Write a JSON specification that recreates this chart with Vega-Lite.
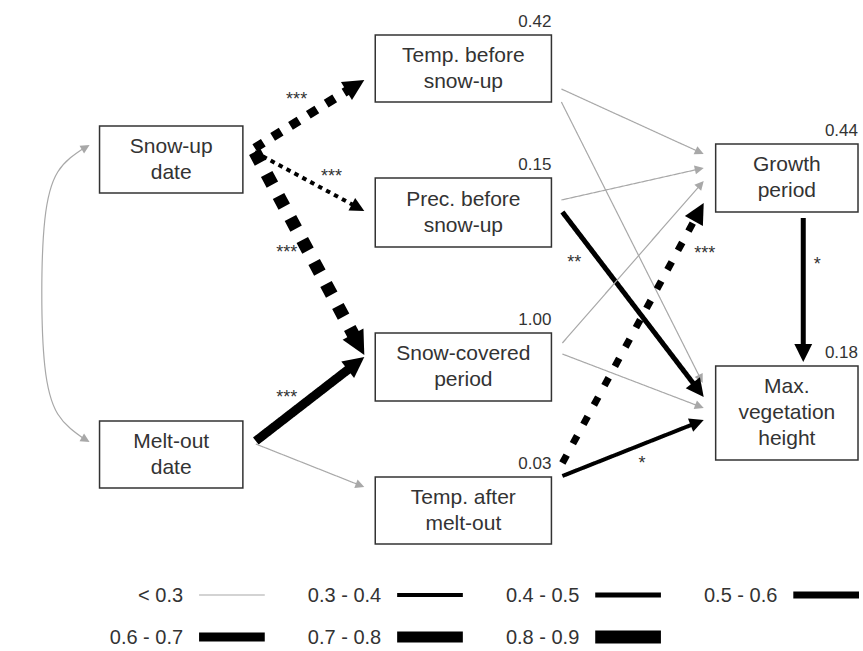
{
  "$schema": "https://vega.github.io/schema/vega-lite/v6.json",
  "width": 863,
  "height": 651,
  "autosize": {"type": "fit", "contains": "padding"},
  "padding": 0,
  "background": "white",
  "config": {"view": {"stroke": null}, "font": "Liberation Sans"},
  "datasets": {
    "nodes": [
      {"id": "SU", "label": "Snow-up\ndate", "x1": 100, "x2": 244, "y1": 126, "y2": 193, "r2": ""},
      {"id": "MO", "label": "Melt-out\ndate", "x1": 100, "x2": 244, "y1": 421, "y2": 488, "r2": ""},
      {"id": "TB", "label": "Temp. before\nsnow-up", "x1": 377, "x2": 554, "y1": 35, "y2": 102, "r2": "0.42"},
      {"id": "PB", "label": "Prec. before\nsnow-up", "x1": 377, "x2": 554, "y1": 178, "y2": 247, "r2": "0.15"},
      {"id": "SC", "label": "Snow-covered\nperiod", "x1": 377, "x2": 554, "y1": 333, "y2": 401, "r2": "1.00"},
      {"id": "TA", "label": "Temp. after\nmelt-out", "x1": 377, "x2": 554, "y1": 477, "y2": 544, "r2": "0.03"},
      {"id": "GP", "label": "Growth\nperiod", "x1": 719, "x2": 862, "y1": 144, "y2": 212, "r2": "0.44"},
      {"id": "MV", "label": "Max.\nvegetation\nheight", "x1": 719, "x2": 862, "y1": 366, "y2": 460, "r2": "0.18"}
    ],
    "paths": [
      {"from": "SU", "to": "TB", "x": 256, "y": 148, "x2": 366, "y2": 80, "coef": "0.6-0.7", "effect": "negative", "sig": "***", "sx": 298, "sy": 95},
      {"from": "SU", "to": "PB", "x": 256, "y": 152, "x2": 366, "y2": 211, "coef": "0.3-0.4", "effect": "negative", "sig": "***", "sx": 333, "sy": 172},
      {"from": "SU", "to": "SC", "x": 256, "y": 152, "x2": 366, "y2": 355, "coef": "0.8-0.9", "effect": "negative", "sig": "***", "sx": 288, "sy": 248},
      {"from": "MO", "to": "SC", "x": 257, "y": 441, "x2": 366, "y2": 357, "coef": "0.6-0.7", "effect": "positive", "sig": "***", "sx": 288, "sy": 393},
      {"from": "MO", "to": "TA", "x": 257, "y": 444, "x2": 366, "y2": 487, "coef": "<0.3", "effect": "positive", "sig": "", "sx": 0, "sy": 0},
      {"from": "TB", "to": "GP", "x": 564, "y": 89, "x2": 707, "y2": 154, "coef": "<0.3", "effect": "positive", "sig": "", "sx": 0, "sy": 0},
      {"from": "TB", "to": "MV", "x": 564, "y": 102, "x2": 706, "y2": 383, "coef": "<0.3", "effect": "positive", "sig": "", "sx": 0, "sy": 0},
      {"from": "PB", "to": "GP", "x": 564, "y": 200, "x2": 707, "y2": 168, "coef": "<0.3", "effect": "positive", "sig": "", "sx": 0, "sy": 0},
      {"from": "PB", "to": "MV", "x": 565, "y": 212, "x2": 707, "y2": 397, "coef": "0.4-0.5", "effect": "positive", "sig": "**", "sx": 577, "sy": 258},
      {"from": "SC", "to": "GP", "x": 565, "y": 343, "x2": 707, "y2": 181, "coef": "<0.3", "effect": "positive", "sig": "", "sx": 0, "sy": 0},
      {"from": "SC", "to": "MV", "x": 565, "y": 354, "x2": 707, "y2": 408, "coef": "<0.3", "effect": "positive", "sig": "", "sx": 0, "sy": 0},
      {"from": "TA", "to": "GP", "x": 565, "y": 463, "x2": 707, "y2": 203, "coef": "0.5-0.6", "effect": "negative", "sig": "***", "sx": 708, "sy": 249},
      {"from": "TA", "to": "MV", "x": 565, "y": 476, "x2": 707, "y2": 420, "coef": "0.3-0.4", "effect": "positive", "sig": "*", "sx": 645, "sy": 459},
      {"from": "GP", "to": "MV", "x": 807, "y": 218, "x2": 807, "y2": 362, "coef": "0.4-0.5", "effect": "positive", "sig": "*", "sx": 821, "sy": 260}
    ],
    "corr": [
      {"i": 0, "x": 86, "y": 147},
      {"i": 1, "x": 58, "y": 172},
      {"i": 2, "x": 45, "y": 220},
      {"i": 3, "x": 42, "y": 293},
      {"i": 4, "x": 45, "y": 366},
      {"i": 5, "x": 58, "y": 414},
      {"i": 6, "x": 86, "y": 440}
    ],
    "corrHeads": [
      {"x": 78, "y": 152, "x2": 90, "y2": 145},
      {"x": 78, "y": 435, "x2": 90, "y2": 442}
    ],
    "legend": [
      {"label": "< 0.3", "coef": "<0.3", "col": 0, "row": 0},
      {"label": "0.3 - 0.4", "coef": "0.3-0.4", "col": 1, "row": 0},
      {"label": "0.4 - 0.5", "coef": "0.4-0.5", "col": 2, "row": 0},
      {"label": "0.5 - 0.6", "coef": "0.5-0.6", "col": 3, "row": 0},
      {"label": "0.6 - 0.7", "coef": "0.6-0.7", "col": 0, "row": 1},
      {"label": "0.7 - 0.8", "coef": "0.7-0.8", "col": 1, "row": 1},
      {"label": "0.8 - 0.9", "coef": "0.8-0.9", "col": 2, "row": 1}
    ]
  },
  "layer": [
    {
      "data": {"name": "corr"},
      "mark": {"type": "line", "interpolate": "natural", "color": "#a8a8a8", "strokeWidth": 1.2},
      "encoding": {
        "x": {"field": "x", "type": "quantitative", "scale": {"domain": [0, 863], "nice": false, "zero": false}, "axis": null},
        "y": {"field": "y", "type": "quantitative", "scale": {"domain": [0, 651], "nice": false, "zero": false, "reverse": true}, "axis": null},
        "order": {"field": "i", "type": "quantitative"}
      }
    },
    {
      "data": {"name": "paths"},
      "transform": [
        {"calculate": "sqrt(pow(datum.x2-datum.x,2)+pow(datum.y2-datum.y,2))", "as": "len"},
        {"calculate": "datum.coef=='<0.3' ? 5 : 12", "as": "cut"},
        {"calculate": "datum.x2-(datum.x2-datum.x)/datum.len*datum.cut", "as": "xe"},
        {"calculate": "datum.y2-(datum.y2-datum.y)/datum.len*datum.cut", "as": "ye"},
        {"calculate": "datum.effect=='negative' ? datum.coef : 'solid'", "as": "dash"}
      ],
      "mark": {"type": "rule", "strokeCap": "butt"},
      "encoding": {
        "x": {"field": "x", "type": "quantitative", "scale": {"domain": [0, 863], "nice": false, "zero": false}, "axis": null},
        "y": {"field": "y", "type": "quantitative", "scale": {"domain": [0, 651], "nice": false, "zero": false, "reverse": true}, "axis": null},
        "x2": {"field": "xe"},
        "y2": {"field": "ye"},
        "color": {"field": "coef", "type": "ordinal", "scale": {"type": "ordinal", "domain": ["<0.3", "0.3-0.4", "0.4-0.5", "0.5-0.6", "0.6-0.7", "0.7-0.8", "0.8-0.9"], "range": ["#a8a8a8", "#000000", "#000000", "#000000", "#000000", "#000000", "#000000"]}, "legend": null},
        "strokeWidth": {"field": "coef", "type": "ordinal", "scale": {"type": "ordinal", "domain": ["<0.3", "0.3-0.4", "0.4-0.5", "0.5-0.6", "0.6-0.7", "0.7-0.8", "0.8-0.9"], "range": [1.2, 4, 5, 7, 9, 11, 13]}, "legend": null},
        "strokeDash": {"field": "dash", "type": "nominal", "scale": {"domain": ["solid", "0.3-0.4", "0.5-0.6", "0.6-0.7", "0.8-0.9"], "range": [[1, 0], [4.5, 4.5], [9, 13], [10, 11], [12, 13]]}, "legend": null}
      }
    },
    {
      "data": {"name": "paths"},
      "transform": [
        {"calculate": "(atan2(datum.x2-datum.x, datum.y-datum.y2)*180/PI + 360) % 360", "as": "angle"}
      ],
      "mark": {"type": "point", "shape": "M0,0L-1,2L1,2Z", "filled": true, "opacity": 1, "strokeWidth": 0},
      "encoding": {
        "x": {"field": "x2", "type": "quantitative", "scale": {"domain": [0, 863], "nice": false, "zero": false}, "axis": null},
        "y": {"field": "y2", "type": "quantitative", "scale": {"domain": [0, 651], "nice": false, "zero": false, "reverse": true}, "axis": null},
        "angle": {"field": "angle", "type": "quantitative", "scale": null},
        "color": {"field": "coef", "type": "ordinal", "scale": {"type": "ordinal", "domain": ["<0.3", "0.3-0.4", "0.4-0.5", "0.5-0.6", "0.6-0.7", "0.7-0.8", "0.8-0.9"], "range": ["#a8a8a8", "#000000", "#000000", "#000000", "#000000", "#000000", "#000000"]}, "legend": null},
        "size": {"field": "coef", "type": "ordinal", "scale": {"type": "ordinal", "domain": ["<0.3", "0.3-0.4", "0.4-0.5", "0.5-0.6", "0.6-0.7", "0.7-0.8", "0.8-0.9"], "range": [81, 200, 320, 420, 440, 480, 560]}, "legend": null}
      }
    },
    {
      "data": {"name": "corrHeads"},
      "transform": [
        {"calculate": "(atan2(datum.x2-datum.x, datum.y-datum.y2)*180/PI + 360) % 360", "as": "angle"}
      ],
      "mark": {"type": "point", "shape": "M0,0L-1,2L1,2Z", "filled": true, "opacity": 1, "strokeWidth": 0, "color": "#a8a8a8", "size": 81},
      "encoding": {
        "x": {"field": "x2", "type": "quantitative", "scale": {"domain": [0, 863], "nice": false, "zero": false}, "axis": null},
        "y": {"field": "y2", "type": "quantitative", "scale": {"domain": [0, 651], "nice": false, "zero": false, "reverse": true}, "axis": null},
        "angle": {"field": "angle", "type": "quantitative", "scale": null}
      }
    },
    {
      "data": {"name": "paths"},
      "transform": [{"filter": "datum.sig != ''"}],
      "mark": {"type": "text", "fontSize": 18, "color": "#333333", "baseline": "alphabetic", "align": "center", "dy": 10},
      "encoding": {
        "x": {"field": "sx", "type": "quantitative", "scale": {"domain": [0, 863], "nice": false, "zero": false}, "axis": null},
        "y": {"field": "sy", "type": "quantitative", "scale": {"domain": [0, 651], "nice": false, "zero": false, "reverse": true}, "axis": null},
        "text": {"field": "sig"}
      }
    },
    {
      "data": {"name": "nodes"},
      "mark": {"type": "rect", "fill": "white", "stroke": "#333333", "strokeWidth": 1.5},
      "encoding": {
        "x": {"field": "x1", "type": "quantitative", "scale": {"domain": [0, 863], "nice": false, "zero": false}, "axis": null},
        "y": {"field": "y1", "type": "quantitative", "scale": {"domain": [0, 651], "nice": false, "zero": false, "reverse": true}, "axis": null},
        "x2": {"field": "x2"},
        "y2": {"field": "y2"}
      }
    },
    {
      "data": {"name": "nodes"},
      "transform": [
        {"calculate": "(datum.x1+datum.x2)/2", "as": "cx"},
        {"calculate": "(datum.y1+datum.y2)/2 - (length(split(datum.label, '\\n'))-1)*13", "as": "cy"}
      ],
      "mark": {"type": "text", "fontSize": 21, "color": "#333333", "lineBreak": "\n", "lineHeight": 26, "align": "center", "baseline": "middle"},
      "encoding": {
        "x": {"field": "cx", "type": "quantitative", "scale": {"domain": [0, 863], "nice": false, "zero": false}, "axis": null},
        "y": {"field": "cy", "type": "quantitative", "scale": {"domain": [0, 651], "nice": false, "zero": false, "reverse": true}, "axis": null},
        "text": {"field": "label"}
      }
    },
    {
      "data": {"name": "nodes"},
      "transform": [
        {"filter": "datum.r2 != ''"},
        {"calculate": "datum.y1 - 13", "as": "ry"}
      ],
      "mark": {"type": "text", "fontSize": 17, "color": "#333333", "align": "right", "baseline": "middle"},
      "encoding": {
        "x": {"field": "x2", "type": "quantitative", "scale": {"domain": [0, 863], "nice": false, "zero": false}, "axis": null},
        "y": {"field": "ry", "type": "quantitative", "scale": {"domain": [0, 651], "nice": false, "zero": false, "reverse": true}, "axis": null},
        "text": {"field": "r2"}
      }
    },
    {
      "data": {"name": "legend"},
      "transform": [
        {"calculate": "200 + 199*datum.col", "as": "lx"},
        {"calculate": "266 + 199*datum.col", "as": "lx2"},
        {"calculate": "595 + 42*datum.row", "as": "ly"}
      ],
      "mark": {"type": "rule", "strokeCap": "butt"},
      "encoding": {
        "x": {"field": "lx", "type": "quantitative", "scale": {"domain": [0, 863], "nice": false, "zero": false}, "axis": null},
        "y": {"field": "ly", "type": "quantitative", "scale": {"domain": [0, 651], "nice": false, "zero": false, "reverse": true}, "axis": null},
        "x2": {"field": "lx2"},
        "color": {"field": "coef", "type": "ordinal", "scale": {"type": "ordinal", "domain": ["<0.3", "0.3-0.4", "0.4-0.5", "0.5-0.6", "0.6-0.7", "0.7-0.8", "0.8-0.9"], "range": ["#a8a8a8", "#000000", "#000000", "#000000", "#000000", "#000000", "#000000"]}, "legend": null},
        "strokeWidth": {"field": "coef", "type": "ordinal", "scale": {"type": "ordinal", "domain": ["<0.3", "0.3-0.4", "0.4-0.5", "0.5-0.6", "0.6-0.7", "0.7-0.8", "0.8-0.9"], "range": [1.2, 4, 5, 7, 9, 11, 13]}, "legend": null}
      }
    },
    {
      "data": {"name": "legend"},
      "transform": [
        {"calculate": "184 + 199*datum.col", "as": "tx"},
        {"calculate": "596 + 42*datum.row", "as": "ty"}
      ],
      "mark": {"type": "text", "fontSize": 20, "color": "#333333", "align": "right", "baseline": "middle"},
      "encoding": {
        "x": {"field": "tx", "type": "quantitative", "scale": {"domain": [0, 863], "nice": false, "zero": false}, "axis": null},
        "y": {"field": "ty", "type": "quantitative", "scale": {"domain": [0, 651], "nice": false, "zero": false, "reverse": true}, "axis": null},
        "text": {"field": "label"}
      }
    }
  ]
}
